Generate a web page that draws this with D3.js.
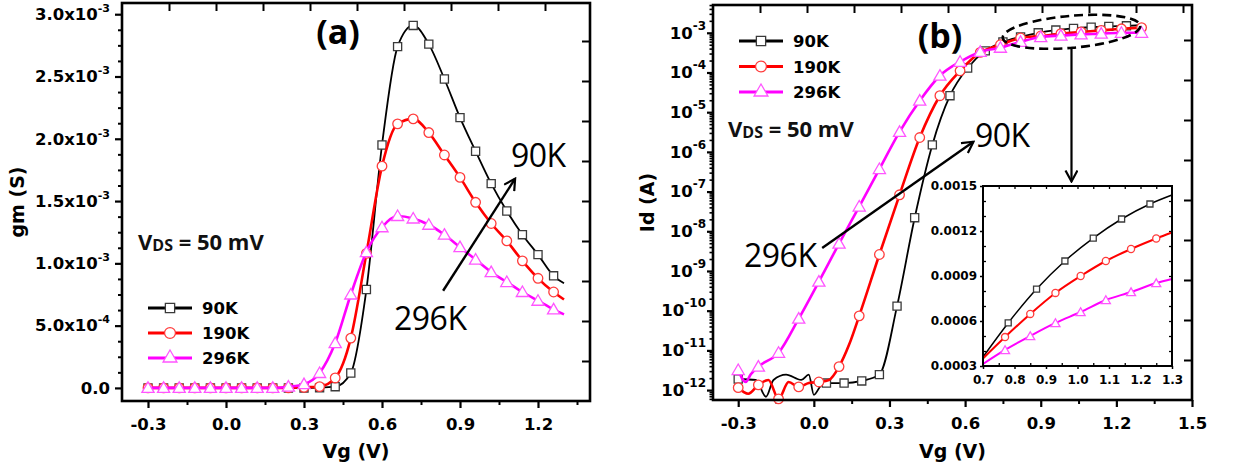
<!DOCTYPE html>
<html>
<head>
<meta charset="utf-8">
<script src="https://cdn.jsdelivr.net/npm/d3@7"></script>
<style>
  body { margin: 0; background: #fff; }
</style>
</head>
<body>
<svg></svg>
<script>
// ---------- data ----------
const seriesNames = ["90K", "190K", "296K"];

// (a) transconductance, Vg step 0.06 V (last point is line end only)
const vgA = [-0.3, -0.24, -0.18, -0.12, -0.06, 0, 0.06, 0.12, 0.18, 0.24, 0.3, 0.36, 0.42, 0.48,
    0.54, 0.6, 0.66, 0.72, 0.78, 0.84, 0.9, 0.96, 1.02, 1.08, 1.14, 1.2, 1.26, 1.3];
const gm90 = [0, 0, 0, 0, 0, 0, 0, 0, 0, 0, 0, 0.000002, 0.00001, 0.00012, 0.00079, 0.00195, 0.00274,
    0.00291, 0.00276, 0.00248, 0.00217, 0.0019, 0.00164, 0.00142, 0.00123, 0.00107, 0.0009, 0.00084];
const gm190 = [0, 0, 0, 0, 0, 0, 0, 0, 0, 0, 0.000005, 0.00001, 0.00008, 0.0004, 0.00108, 0.00178, 0.00212,
    0.00216, 0.00205, 0.00187, 0.00169, 0.00149, 0.00132, 0.00118, 0.00102, 0.00088, 0.00077, 0.00071];
const gm296 = [0, 0, 0, 0, 0, 0, 0, 0, 0, 0.00001, 0.00003, 0.00012, 0.00036, 0.00075, 0.00109, 0.00129, 0.00138,
    0.00136, 0.00131, 0.00123, 0.00113, 0.00103, 0.00093, 0.00085, 0.00077, 0.0007, 0.00063, 0.00059];

// (b) drain current (log), markers
const vgB = [-0.3, -0.22, -0.14, -0.06, 0.02, 0.1, 0.18, 0.26, 0.34, 0.42, 0.5, 0.58, 0.66, 0.74,
    0.82, 0.9, 0.98, 1.06, 1.14, 1.22, 1.3];
const id190 = [1.15e-12, 1.35e-12, 6.0e-13, 1.2e-12, 1.6e-12, 3.9e-12, 7.4e-11, 2.6e-9, 8.3e-8, 2.3e-6, 2.6e-5,
    1.1e-4, 3.2e-4, 5.0e-4, 7.4e-4, 8.3e-4, 9.5e-4, 1.05e-3, 1.15e-3, 1.26e-3, 1.35e-3];
const id296 = [3.2e-12, 3.9e-12, 8.7e-12, 6.3e-11, 5.4e-10, 4.9e-9, 4.2e-8, 3.7e-7, 3.2e-6, 1.95e-5, 8.3e-5,
    1.86e-4, 3.3e-4, 4.2e-4, 5.9e-4, 7.8e-4, 8.5e-4, 9.1e-4, 9.5e-4, 1.0e-3, 1.0e-3];
const vg90B = [-0.3, 0.05, 0.12, 0.19, 0.26, 0.33, 0.4, 0.47, 0.54, 0.61, 0.68, 0.75, 0.82, 0.89, 0.96,
    1.03, 1.1, 1.17, 1.24];
const id90 = [1.9e-12, 1.5e-12, 1.5e-12, 1.7e-12, 2.45e-12, 1.3e-10, 2.2e-8, 1.5e-6, 2.6e-5, 1.3e-4, 3.5e-4,
    5.9e-4, 7.9e-4, 1.0e-3, 1.17e-3, 1.29e-3, 1.38e-3, 1.45e-3, 1.5e-3];
// (b) line-only points (noise floor between markers)
const vg90Noise = [-0.23, -0.19, -0.16, -0.11, -0.05, -0.02, 0.0, 0.03, 1.3];
const id90Noise = [1.8e-12, 6.8e-13, 1.8e-12, 2.45e-12, 1.8e-12, 2.45e-12, 7.6e-13, 1.35e-12, 1.55e-3];
const vg190Noise = [-0.26, -0.18, -0.1, -0.02, 0.06, 0.14];
const id190Noise = [8.1e-13, 1.8e-12, 1.6e-12, 1.5e-12, 1.8e-12, 1.4e-11];
const vg296Noise = [-0.27, -0.25];
const id296Noise = [1.6e-12, 2.5e-12];

// inset, linear Id (first/last points are line ends)
const vgI90 = [0.7, 0.78, 0.87, 0.96, 1.05, 1.14, 1.23, 1.3];
const idI90 = [0.00036, 0.000587, 0.000813, 0.001, 0.001153, 0.00128, 0.00138, 0.00144];
const vgI190 = [0.7, 0.77, 0.85, 0.93, 1.01, 1.09, 1.17, 1.25, 1.3];
const idI190 = [0.00035, 0.000493, 0.000647, 0.000787, 0.0009, 0.001, 0.00108, 0.00115, 0.00119];
const vgI296 = [0.7, 0.77, 0.85, 0.93, 1.01, 1.09, 1.17, 1.25, 1.3];
const idI296 = [0.000313, 0.000407, 0.0005, 0.000587, 0.00066, 0.00074, 0.000793, 0.000853, 0.00088];

// tick values
const xTicksA = [-0.3, 0, 0.3, 0.6, 0.9, 1.2];
const xMinorA = [-0.15, 0.15, 0.45, 0.75, 1.05, 1.35];
const yTicksA = [0, 0.0005, 0.001, 0.0015, 0.002, 0.0025, 0.003];
const xTicksB = [-0.3, 0, 0.3, 0.6, 0.9, 1.2, 1.5];
const xMinorB = [-0.15, 0.15, 0.45, 0.75, 1.05, 1.35];
const yExpB = [-12, -11, -10, -9, -8, -7, -6, -5, -4, -3];
const xTicksI = [0.7, 0.8, 0.9, 1.0, 1.1, 1.2, 1.3];
const yTicksI = [0.0003, 0.0006, 0.0009, 0.0012, 0.0015];

// ---------- setup ----------
const W = 1233, H = 472;
const svg = d3.select("svg").attr("width", W).attr("height", H)
    .style("background", "#fff").style("font-family", "DejaVu Sans");

const TICK_FONT = "DejaVu Sans";
const styles = [
    { line: "#000", lw: 1.8, mark: "#3a3a3a", sym: d3.symbolSquare, size: 66 },
    { line: "#ff0000", lw: 2.6, mark: "#ff3b3b", sym: d3.symbolCircle, size: 72 },
    { line: "#ff00ff", lw: 2.6, mark: "#ff55ff", sym: d3.symbolTriangle, size: 64 }
];

const defs = svg.append("defs");
defs.append("marker").attr("id", "arr")
    .attr("viewBox", "0 0 14 14").attr("refX", 12).attr("refY", 7)
    .attr("markerWidth", 14).attr("markerHeight", 14)
    .attr("markerUnits", "userSpaceOnUse").attr("orient", "auto")
    .append("path").attr("d", "M1,1 L12,7 L1,13")
    .attr("fill", "none").attr("stroke", "#000").attr("stroke-width", 2.2);

function makePts(vgs, vals, markFn) {
    return vgs.map((v, i) => ({ vg: v, v: vals[i], mark: markFn(i, vgs.length) }));
}

function styleAxis(sel, size, fontSize) {
    sel.select(".domain").remove();
    sel.selectAll(".tick line").attr("stroke", "#000").attr("stroke-width", size);
    sel.selectAll(".tick text").attr("font-family", TICK_FONT).attr("font-weight", "bold")
        .attr("font-size", fontSize).attr("fill", "#000");
}

function drawSeries(g, pts, x, y, st, symScale) {
    const line = d3.line().x(d => x(d.vg)).y(d => y(d.v)).curve(d3.curveMonotoneX);
    g.append("path").datum(pts).attr("d", line)
        .attr("fill", "none").attr("stroke", st.line).attr("stroke-width", st.lw)
        .attr("stroke-linejoin", "round");
    const sym = d3.symbol().type(st.sym).size(st.size * symScale);
    g.selectAll(null).data(pts.filter(d => d.mark)).enter().append("path")
        .attr("d", sym)
        .attr("transform", d => `translate(${x(d.vg)},${y(d.v) + (st.sym === d3.symbolTriangle ? 1 : 0)})`)
        .attr("fill", "#fff").attr("stroke", st.mark).attr("stroke-width", 1.3);
}

function drawLegend(g, x0, y0, dy) {
    seriesNames.forEach((name, i) => {
        const st = styles[i];
        const yy = y0 + i * dy;
        g.append("line").attr("x1", x0).attr("x2", x0 + 44).attr("y1", yy).attr("y2", yy)
            .attr("stroke", st.line).attr("stroke-width", 2.8);
        g.append("path").attr("d", d3.symbol().type(st.sym).size(st.size * 1.3))
            .attr("transform", `translate(${x0 + 22},${yy})`)
            .attr("fill", "#fff").attr("stroke", st.mark).attr("stroke-width", 1.3);
        g.append("text").attr("x", x0 + 54).attr("y", yy + 6)
            .attr("font-family", TICK_FONT).attr("font-weight", "bold").attr("font-size", 16.5)
            .text(name);
    });
}

function vds(g, x, y) {
    const t = g.append("text").attr("x", x).attr("y", y)
        .attr("font-family", "Open Sans").attr("font-weight", "bold").attr("font-size", 22).attr("fill", "#111");
    t.append("tspan").text("V");
    t.append("tspan").attr("font-size", 16).attr("dy", 1).text("DS");
    t.append("tspan").attr("dy", -1).text(" = 50 mV");
}

function bigLabel(g, x, y, s) {
    g.append("text").attr("x", x).attr("y", y)
        .attr("font-family", "Open Sans").attr("font-size", 32).attr("fill", "#000")
        .attr("letter-spacing", -0.5).text(s);
}

function panelTitle(g, x, y, s) {
    g.append("text").attr("x", x).attr("y", y).attr("text-anchor", "middle")
        .attr("font-family", "Open Sans").attr("font-weight", "bold").attr("font-size", 34).text(s);
}

// decorative inner ticks on top/right (they don't follow the data scale)
function frameTicks(g, box) {
    const top = d3.scaleLinear().domain([0, 10]).range([box.l, box.l + 470]);
    g.append("g").attr("transform", `translate(0,${box.t})`)
        .call(d3.axisBottom(top).tickValues(d3.range(1, 11).filter(k => top(k) < box.r - 4))
            .tickSize(8).tickFormat(""))
        .call(s => styleAxis(s, 2, 10));
    const right = d3.scaleLinear().domain([0, 10]).range([box.b, box.b - 400]);
    g.append("g").attr("transform", `translate(${box.r},0)`)
        .call(d3.axisLeft(right).tickValues(d3.range(1, 10).filter(k => right(k) > box.t + 4))
            .tickSize(8).tickFormat(""))
        .call(s => styleAxis(s, 2, 10));
}

function frame(g, box, sw) {
    g.append("rect").attr("x", box.l).attr("y", box.t)
        .attr("width", box.r - box.l).attr("height", box.b - box.t)
        .attr("fill", "none").attr("stroke", "#000").attr("stroke-width", sw);
}

function supLabel(sel, base, sup, supSize, rise) {
    sel.text(null);
    sel.append("tspan").text(base);
    if (sup) sel.append("tspan").attr("font-size", supSize).attr("dy", -rise).text(sup);
}

// ---------- panel (a) ----------
const boxA = { l: 122, r: 590, t: 3, b: 401 };
const xA = d3.scaleLinear().domain([-0.4, 1.4]).range([boxA.l, boxA.r]);
const yA = d3.scaleLinear().domain([-1.05e-4, 3.09e-3]).range([boxA.b, boxA.t]);
const gA = svg.append("g");

gA.append("g").attr("transform", `translate(0,${boxA.b})`)
    .call(d3.axisBottom(xA).tickValues(xTicksA).tickSize(7).tickPadding(10).tickFormat(d => d.toFixed(1)))
    .call(s => styleAxis(s, 2.2, 16.5));
gA.append("g").attr("transform", `translate(0,${boxA.b})`)
    .call(d3.axisBottom(xA).tickValues(xMinorA).tickSize(4).tickFormat(""))
    .call(s => styleAxis(s, 2, 10));
gA.append("g").attr("transform", `translate(${boxA.l},0)`)
    .call(d3.axisLeft(yA).tickValues(yTicksA).tickSize(7).tickPadding(5))
    .call(s => styleAxis(s, 2.2, 16.5))
    .call(s => s.selectAll(".tick text").each(function (d) {
        const t = d3.select(this);
        if (d === 0) { supLabel(t, "0.0"); return; }
        const e = d < 0.001 ? -4 : -3;
        supLabel(t, (d / Math.pow(10, e)).toFixed(1) + "x10", String(e), 11, 8);
    }));
const yMinorA = d3.range(0, 0.0031, 0.000125).filter(v => !yTicksA.some(t => Math.abs(t - v) < 1e-9));
gA.append("g").attr("transform", `translate(${boxA.l},0)`)
    .call(d3.axisLeft(yA).tickValues(yMinorA).tickSize(4).tickFormat(""))
    .call(s => styleAxis(s, 2, 10));
frameTicks(gA, boxA);

[gm90, gm190, gm296].forEach((vals, i) => {
    drawSeries(gA, makePts(vgA, vals, (k, n) => k < n - 1), xA, yA, styles[i], 1);
});
frame(gA, boxA, 2.6);

gA.append("text").attr("x", (boxA.l + boxA.r) / 2).attr("y", 458).attr("text-anchor", "middle")
    .attr("font-family", TICK_FONT).attr("font-weight", "bold").attr("font-size", 19).text("Vg (V)");
gA.append("text").attr("transform", `translate(24,${(boxA.t + boxA.b) / 2}) rotate(-90)`)
    .attr("text-anchor", "middle")
    .attr("font-family", TICK_FONT).attr("font-weight", "bold").attr("font-size", 19).text("gm (S)");

panelTitle(gA, 338, 44, "(a)");
vds(gA, 138, 250);
drawLegend(gA, 148, 308, 25);
gA.append("line")
    .attr("x1", xA(0.835)).attr("y1", yA(0.00078))
    .attr("x2", xA(1.112)).attr("y2", yA(0.00168))
    .attr("stroke", "#000").attr("stroke-width", 2.4).attr("marker-end", "url(#arr)");
bigLabel(gA, 511, 167, "90K");
bigLabel(gA, 394, 330, "296K");

// ---------- panel (b) ----------
const boxB = { l: 713, r: 1192, t: 5, b: 400 };
const xB = d3.scaleLinear().domain([-0.4, 1.5]).range([boxB.l, boxB.r]);
const yB = d3.scaleLog().domain([Math.pow(10, -12.25), Math.pow(10, -2.3)]).range([boxB.b, boxB.t]);
const gB = svg.append("g");

gB.append("g").attr("transform", `translate(0,${boxB.b})`)
    .call(d3.axisBottom(xB).tickValues(xTicksB).tickSize(7).tickPadding(10).tickFormat(d => d.toFixed(1)))
    .call(s => styleAxis(s, 2.2, 16.5));
gB.append("g").attr("transform", `translate(0,${boxB.b})`)
    .call(d3.axisBottom(xB).tickValues(xMinorB).tickSize(4).tickFormat(""))
    .call(s => styleAxis(s, 2, 10));
gB.append("g").attr("transform", `translate(${boxB.l},0)`)
    .call(d3.axisLeft(yB).tickValues(yExpB.map(e => Math.pow(10, e))).tickSize(6).tickPadding(1))
    .call(s => styleAxis(s, 2.2, 16.5))
    .call(s => s.selectAll(".tick text").each(function (d, i) {
        supLabel(d3.select(this), "10", String(yExpB[i]), 12, 9);
    }));
const yMinorB = [];
for (let e = -13; e <= -3; e++) for (let k = 2; k <= 9; k++) {
    const v = k * Math.pow(10, e);
    if (v > yB.domain()[0] && v < yB.domain()[1]) yMinorB.push(v);
}
gB.append("g").attr("transform", `translate(${boxB.l},0)`)
    .call(d3.axisLeft(yB).tickValues(yMinorB).tickSize(3.5).tickFormat(""))
    .call(s => styleAxis(s, 1.6, 10));
frameTicks(gB, boxB);

const ptsB = [
    makePts(vg90B, id90, () => true).concat(makePts(vg90Noise, id90Noise, () => false)),
    makePts(vgB, id190, () => true).concat(makePts(vg190Noise, id190Noise, () => false)),
    makePts(vgB, id296, () => true).concat(makePts(vg296Noise, id296Noise, () => false))
];
ptsB.forEach((pts, i) => {
    pts.sort((a, b) => a.vg - b.vg);
    drawSeries(gB, pts, xB, yB, styles[i], 1);
});
frame(gB, boxB, 2.6);

gB.append("text").attr("x", (boxB.l + boxB.r) / 2).attr("y", 458).attr("text-anchor", "middle")
    .attr("font-family", TICK_FONT).attr("font-weight", "bold").attr("font-size", 19).text("Vg (V)");
gB.append("text").attr("transform", `translate(654,${(boxB.t + boxB.b) / 2}) rotate(-90)`)
    .attr("text-anchor", "middle")
    .attr("font-family", TICK_FONT).attr("font-weight", "bold").attr("font-size", 19).text("Id (A)");

panelTitle(gB, 940, 48, "(b)");
vds(gB, 728, 137);
drawLegend(gB, 739, 41, 25.5);

gB.append("line")
    .attr("x1", xB(0.033)).attr("y1", yB(3.8e-9))
    .attr("x2", xB(0.633)).attr("y2", yB(1.8e-6))
    .attr("stroke", "#000").attr("stroke-width", 2.4).attr("marker-end", "url(#arr)");
bigLabel(gB, 975, 147, "90K");
bigLabel(gB, 744, 267, "296K");

// dashed ellipse around the saturation region and arrow to the inset
const ex = xB(1.022), ey = yB(1.06e-3);
gB.append("ellipse").attr("cx", ex).attr("cy", ey).attr("rx", 69).attr("ry", 16)
    .attr("transform", `rotate(-5,${ex},${ey})`)
    .attr("fill", "none").attr("stroke", "#000").attr("stroke-width", 2.6).attr("stroke-dasharray", "9,5");
gB.append("line").attr("x1", ex).attr("x2", ex).attr("y1", yB(4.2e-4)).attr("y2", yB(1.8e-7))
    .attr("stroke", "#000").attr("stroke-width", 2.2).attr("marker-end", "url(#arr)");

// ---------- inset ----------
const boxI = { l: 983, r: 1172, t: 186, b: 366 };
const xI = d3.scaleLinear().domain([0.7, 1.3]).range([boxI.l, boxI.r]);
const yI = d3.scaleLinear().domain([0.0003, 0.0015]).range([boxI.b, boxI.t]);
const gI = svg.append("g");
gI.append("rect").attr("x", boxI.l).attr("y", boxI.t).attr("width", boxI.r - boxI.l)
    .attr("height", boxI.b - boxI.t).attr("fill", "#fff");

gI.append("g").attr("transform", `translate(0,${boxI.b})`)
    .call(d3.axisBottom(xI).tickValues(xTicksI).tickSize(3).tickPadding(6).tickFormat(d => d.toFixed(1)))
    .call(s => styleAxis(s, 1.5, 12));
gI.append("g").attr("transform", `translate(0,${boxI.b})`)
    .call(d3.axisTop(xI).tickValues(d3.range(0.75, 1.3, 0.1)).tickSize(3).tickFormat(""))
    .call(s => styleAxis(s, 1.3, 10));
gI.append("g").attr("transform", `translate(0,${boxI.t})`)
    .call(d3.axisBottom(xI).tickValues(d3.range(0.75, 1.3, 0.05)).tickSize(3).tickFormat(""))
    .call(s => styleAxis(s, 1.3, 10));
gI.append("g").attr("transform", `translate(${boxI.l},0)`)
    .call(d3.axisLeft(yI).tickValues(yTicksI).tickSize(3).tickPadding(3).tickFormat(d => d.toFixed(4)))
    .call(s => styleAxis(s, 1.5, 12));
const yMinorI = d3.range(0.0004, 0.0015, 0.0001).filter(v => !yTicksI.some(t => Math.abs(t - v) < 1e-9));
gI.append("g").attr("transform", `translate(${boxI.l},0)`)
    .call(d3.axisRight(yI).tickValues(yMinorI).tickSize(3).tickFormat(""))
    .call(s => styleAxis(s, 1.3, 10));
gI.append("g").attr("transform", `translate(${boxI.r},0)`)
    .call(d3.axisLeft(yI).tickValues(d3.range(0.0004, 0.0015, 0.0001)).tickSize(3).tickFormat(""))
    .call(s => styleAxis(s, 1.3, 10));

const insetStyles = styles.map((st, i) => Object.assign({}, st, { lw: i === 0 ? 1.5 : 2 }));
[[vgI90, idI90], [vgI190, idI190], [vgI296, idI296]].forEach(([vg, vals], i) => {
    drawSeries(gI, makePts(vg, vals, (k, n) => k > 0 && k < n - 1), xI, yI, insetStyles[i], 0.55);
});
frame(gI, boxI, 2);
</script>
</body>
</html>
